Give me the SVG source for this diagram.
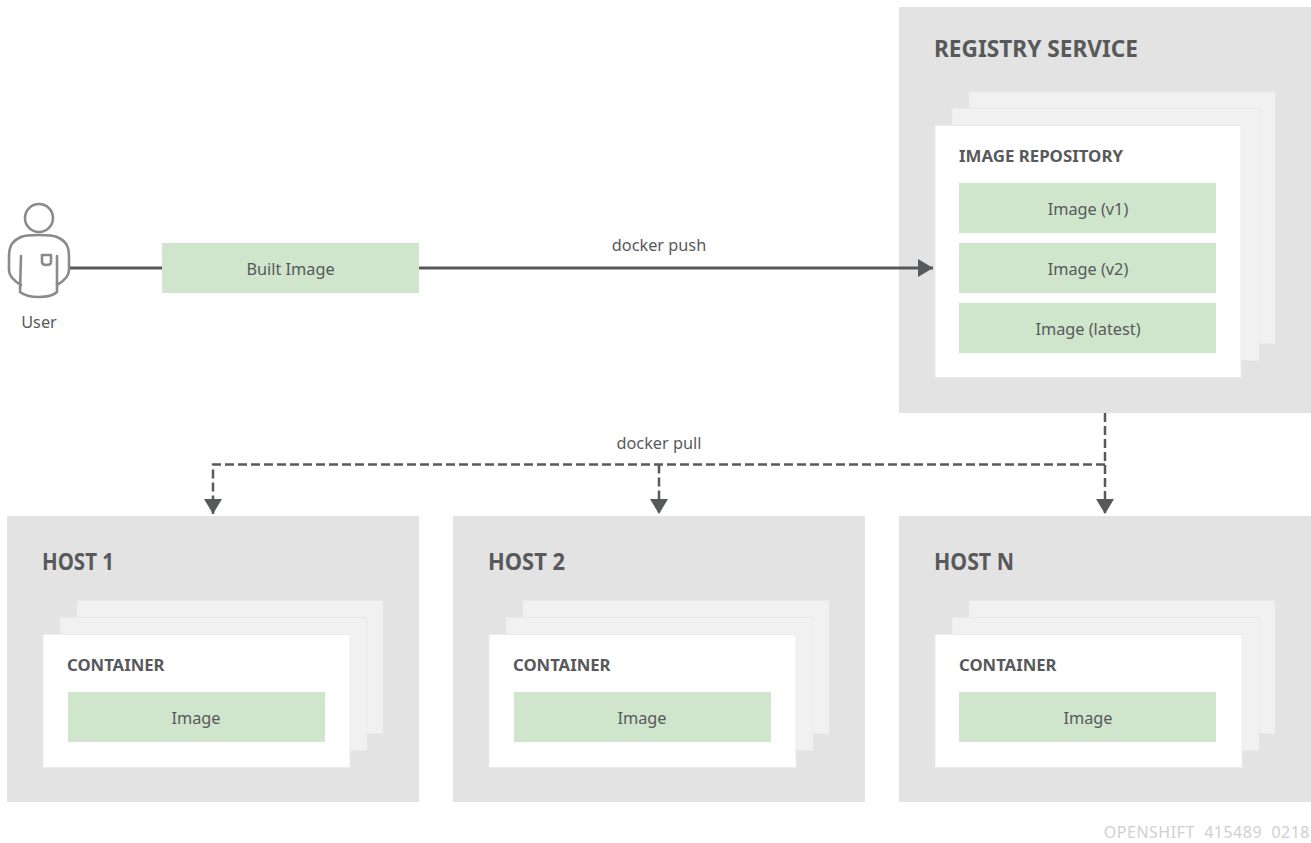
<svg xmlns="http://www.w3.org/2000/svg" width="1311" height="843" viewBox="0 0 1311 843">
<style>
text{font-family:"Noto Sans","Open Sans","Liberation Sans",sans-serif;fill:#58595b}
.panel{fill:#e3e3e3}
.sheet{fill:#f1f1f1;stroke:#e9e9e9;stroke-width:1}
.front{fill:#fff;stroke:#ececec;stroke-width:1}
.green{fill:#cfe5cc}
.t1{font-size:22.500px;font-weight:700}
.t2{font-size:16.700px;font-weight:700}
.lb{font-size:16.300px;text-anchor:middle}
.solid{fill:none;stroke:#58595b;stroke-width:3}
.dash{fill:none;stroke:#58595b;stroke-width:2.500;stroke-dasharray:9 4}
.ic{fill:none;stroke:#8a8a8a;stroke-width:2.600;stroke-linecap:round;stroke-linejoin:round}
</style>
<defs>
<marker id="ah" markerUnits="userSpaceOnUse" markerWidth="16" markerHeight="20" refX="15" refY="9" orient="auto"><path d="M0 0L15 9L0 18Z" fill="#58595b"/></marker>
</defs>
<g id="user">
<circle class="ic" cx="39" cy="218" r="14"/>
<path class="ic" d="M21 285C14 281 9 276 9 270V257C9 246 12 241 21 237C25 235 30 235 39 235C48 235 53 235 57 237C66 241 69 246 69 257V270C69 276 64 281 57 285"/>
<path class="ic" d="M21 256L20 292C25 296 32 297 39 297C46 297 53 296 57 292L57 256"/>
<path class="ic" d="M42 255H51V262C51 264 49 265 46.500 265C44 265 42 264 42 262Z" stroke-width="2"/>
<text class="lb" x="39" y="328">User</text>
</g>
<g id="built-image">
<rect class="green" x="162" y="243" width="257" height="50"/>
<text class="lb" x="290.500" y="275">Built Image</text>
</g>
<text class="lb" x="659" y="251">docker push</text>
<text class="lb" x="659" y="449">docker pull</text>
<g id="registry">
<rect class="panel" x="899" y="7" width="412" height="406"/>
<text class="t1" x="934" y="57" textLength="204" lengthAdjust="spacingAndGlyphs">REGISTRY SERVICE</text>
<rect class="sheet" x="969" y="92" width="306" height="252"/>
<rect class="sheet" x="952" y="108.500" width="307" height="252"/>
<rect class="front" x="935" y="125.500" width="306" height="252"/>
<text class="t2" x="959" y="162" textLength="164" lengthAdjust="spacingAndGlyphs">IMAGE REPOSITORY</text>
<rect class="green" x="959" y="183" width="257" height="50"/>
<text class="lb" x="1088" y="215">Image (v1)</text>
<rect class="green" x="959" y="243" width="257" height="50"/>
<text class="lb" x="1088" y="275">Image (v2)</text>
<rect class="green" x="959" y="303" width="257" height="50"/>
<text class="lb" x="1088" y="335">Image (latest)</text>
</g>
<g id="host-1">
<rect class="panel" x="7" y="516" width="412" height="286"/>
<text class="t1" x="42" y="569.500" textLength="72" lengthAdjust="spacingAndGlyphs">HOST 1</text>
<rect class="sheet" x="77" y="600.500" width="306" height="133"/>
<rect class="sheet" x="60" y="617.500" width="307" height="133"/>
<rect class="front" x="43" y="634.500" width="307" height="133"/>
<text class="t2" x="67" y="671">CONTAINER</text>
<rect class="green" x="68" y="692" width="257" height="50"/>
<text class="lb" x="196" y="724">Image</text>
</g>
<g id="host-2">
<rect class="panel" x="453" y="516" width="412" height="286"/>
<text class="t1" x="488" y="569.500" textLength="77" lengthAdjust="spacingAndGlyphs">HOST 2</text>
<rect class="sheet" x="523" y="600.500" width="306" height="133"/>
<rect class="sheet" x="506" y="617.500" width="307" height="133"/>
<rect class="front" x="489" y="634.500" width="307" height="133"/>
<text class="t2" x="513" y="671">CONTAINER</text>
<rect class="green" x="514" y="692" width="257" height="50"/>
<text class="lb" x="642" y="724">Image</text>
</g>
<g id="host-n">
<rect class="panel" x="899" y="516" width="412" height="286"/>
<text class="t1" x="934" y="569.500" textLength="80" lengthAdjust="spacingAndGlyphs">HOST N</text>
<rect class="sheet" x="969" y="600.500" width="306" height="133"/>
<rect class="sheet" x="952" y="617.500" width="307" height="133"/>
<rect class="front" x="935" y="634.500" width="307" height="133"/>
<text class="t2" x="959" y="671">CONTAINER</text>
<rect class="green" x="959" y="692" width="257" height="50"/>
<text class="lb" x="1088" y="724">Image</text>
</g>
<g id="connectors">
<path class="solid" d="M70 268H162"/>
<path class="solid" d="M419 268H933" marker-end="url(#ah)"/>
<path class="dash" d="M1105 413V514" marker-end="url(#ah)"/>
<path class="dash" d="M1105 464.500H213V514" marker-end="url(#ah)"/>
<path class="dash" d="M659 464.500V514" marker-end="url(#ah)"/>
</g>
<text x="1310" y="838" text-anchor="end" style="font-size:16px;fill:#d0d0d0;letter-spacing:.5px;white-space:pre" xml:space="preserve">OPENSHIFT  415489  0218</text>
</svg>
